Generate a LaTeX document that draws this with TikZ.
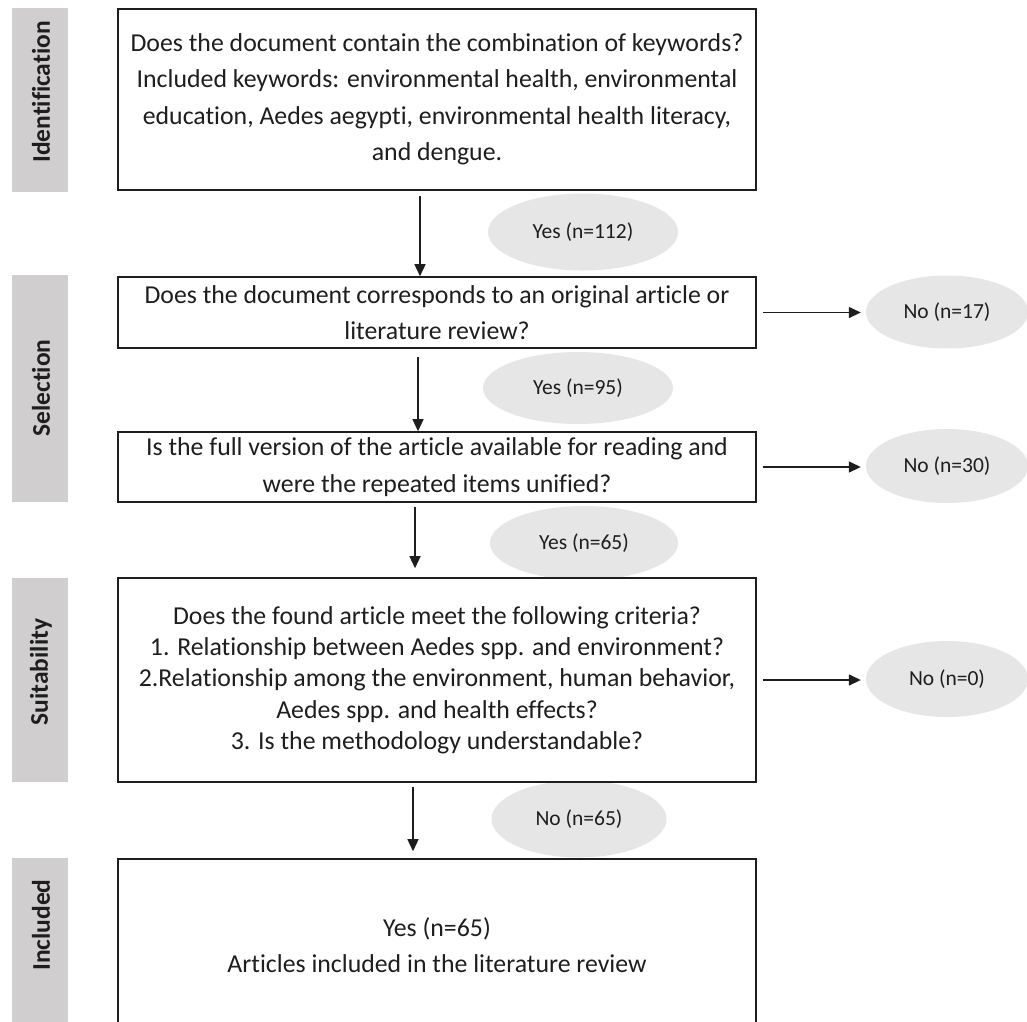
\documentclass[tikz,border=0pt]{standalone}
\usepackage{fontspec}
\setmainfont{Carlito}[Ligatures=NoCommon,RawFeature=-liga]
\usetikzlibrary{shapes.geometric,arrows.meta}
\definecolor{bargrey}{HTML}{D0CECE}
\definecolor{ellgrey}{HTML}{E7E6E6}
\definecolor{ink}{HTML}{1E1E1E}
\begin{document}
\begin{tikzpicture}[x=1pt,y=-1pt,
  bar/.style={fill=bargrey, draw=none, inner sep=0, minimum width=56pt},
  barlabel/.style={rotate=90, inner sep=0, font=\fontsize{25.5}{30}\selectfont\bfseries, text=ink},
  box/.style={draw=ink, line width=1.6pt, fill=white, minimum width=638pt, inner sep=0, align=center, font=\fontsize{25.8}{36.5}\selectfont, text=ink},
  boxtight/.style={box, font=\fontsize{25.8}{31.3}\selectfont},
  oval/.style={ellipse, fill=ellgrey, draw=none, inner sep=0, font=\fontsize{21.5}{25}\selectfont, text=ink},
  arr/.style={-{Triangle[length=12pt,width=11pt]}, line width=1.4pt, draw=ink}]
\useasboundingbox (0,0) rectangle (1027,1021);
\clip (0,0) rectangle (1027,1021);
\fill[white] (0,0) rectangle (1027,1021);

% side bars
\node[bar, minimum height=184pt] (bid) at (40,100) {};
\node[bar, minimum height=227pt] (bsel) at (40,388.5) {};
\node[bar, minimum height=204pt] (bsuit) at (40,680) {};
\node[bar, minimum height=180pt] (binc) at (40,948) {};
\node[barlabel] (lid) at (41,92) {Identification};
\node[barlabel] (lsel) at (41,388) {Selection};
\node[barlabel] (lsuit) at (41,672) {Suitability};
\node[barlabel] (linc) at (41,925) {Included};

% ellipses
\node[oval, minimum width=190pt, minimum height=77pt] (y112) at (583,232) {Yes (n=112)};
\node[oval, minimum width=190pt, minimum height=72pt] (y95) at (578,388) {Yes (n=95)};
\node[oval, minimum width=188pt, minimum height=74pt] (y65) at (584,543) {Yes (n=65)};
\node[oval, minimum width=175pt, minimum height=77pt] (n65) at (579,819) {No (n=65)};
\node[oval, minimum width=162pt, minimum height=73pt] (n17) at (947,312) {No (n=17)};
\node[oval, minimum width=162pt, minimum height=74pt] (n30) at (947,466) {No (n=30)};
\node[oval, minimum width=162pt, minimum height=76pt] (n0) at (947,679) {No (n=0)};

% boxes
\node[box, minimum height=181pt] (box1) at (437,99.5) {Does the document contain the combination of keywords?\\ Included keywords: environmental health, environmental\\ education, Aedes aegypti, environmental health literacy,\\ and dengue.};
\node[box, minimum height=71pt] (box2) at (437,312.5) {Does the document corresponds to an original article or\\ literature review?};
\node[box, minimum height=70pt] (box3) at (437,467) {Is the full version of the article available for reading and\\ were the repeated items unified?};
\node[boxtight, minimum height=204pt] (box4) at (437,680) {Does the found article meet the following criteria?\\ 1. Relationship between Aedes spp. and environment?\\ 2.Relationship among the environment, human behavior,\\ Aedes spp. and health effects?\\ 3. Is the methodology understandable?};
\node[box, minimum height=172pt] (box5) at (437,945) {Yes (n=65)\\ Articles included in the literature review};

% connectors
\coordinate (x1) at (420,0);
\coordinate (x2) at (418,0);
\coordinate (x3) at (415,0);
\coordinate (x4) at (413,0);
\draw[arr, shorten <=5pt] (box1.south -| x1) -- (box2.north -| x1);
\draw[arr, shorten <=8pt] (box2.south -| x2) -- (box3.north -| x2);
\draw[arr, shorten <=4pt, shorten >=9pt] (box3.south -| x3) -- (box4.north -| x3);
\draw[arr, shorten <=4pt, shorten >=7pt] (box4.south -| x4) -- (box5.north -| x4);
\draw[arr, shorten <=6pt, shorten >=5pt] (box2.east) -- (n17.west |- box2.east);
\draw[arr, shorten <=6pt, shorten >=5pt] (box3.east) -- (n30.west |- box3.east);
\draw[arr, shorten <=6pt, shorten >=5pt] (box4.east) -- (n0.west |- box4.east);
\end{tikzpicture}
\end{document}
